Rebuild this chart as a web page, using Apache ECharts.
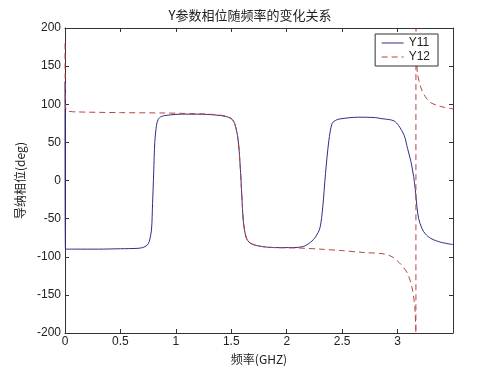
<!DOCTYPE html>
<html><head><meta charset="utf-8">
<script src="https://cdn.jsdelivr.net/npm/echarts@6/dist/echarts.min.js"></script>
<style>html,body{margin:0;padding:0;background:#fff}#c{width:500px;height:375px}</style>
</head><body><div id="c"></div>
<script>
const titleText = 'Y参数相位随频率的变化关系';
const xName = '频率(GHZ)';
const yName = '导纳相位(deg)';
const seriesNames = ['Y11', 'Y12'];
const xTicks = [0, 0.5, 1, 1.5, 2, 2.5, 3];
const yTicks = [-200, -150, -100, -50, 0, 50, 100, 150, 200];

const y11 = [
  [0,130],[0.004,-90],[0.1,-90],[0.3,-90],[0.5,-89.5],[0.65,-89],[0.7,-88],[0.74,-85],[0.76,-80],[0.78,-65],
  [0.79,-30],[0.80,10],[0.81,50],[0.825,72],[0.84,80],[0.87,84],[0.95,86],[1.05,87],[1.2,87],[1.35,86],
  [1.45,84],[1.5,81],[1.53,75],[1.56,55],[1.58,20],[1.595,-20],[1.61,-55],[1.635,-75],[1.67,-82],[1.75,-86],
  [1.9,-88],[2.05,-88],[2.15,-86.5],[2.215,-81],[2.26,-74],[2.3,-62],[2.325,-35],[2.35,9],[2.38,52],[2.41,75],
  [2.45,79.5],[2.49,81],[2.64,83],[2.8,82.5],[2.86,81],[2.92,80],[2.97,78],[3.01,72],[3.06,59],[3.09,42],
  [3.12,25],[3.145,5],[3.16,-12],[3.175,-35],[3.19,-50],[3.22,-63],[3.25,-70],[3.3,-76],[3.39,-81],[3.5,-84]
];
const y12 = [
  [0,180],[0.006,95],[0.03,91],[0.1,90],[0.5,89],[0.9,88.5],[1.2,87.5],[1.35,86.5],[1.45,84.5],[1.5,81.5],
  [1.53,75],[1.56,55],[1.58,20],[1.595,-20],[1.61,-55],[1.635,-75],[1.67,-82],[1.75,-86],[1.9,-88],[2.1,-88.5],
  [2.3,-90],[2.5,-92],[2.7,-94.5],[2.86,-96],[2.95,-100],[3.03,-110],[3.09,-122],[3.13,-140],[3.155,-165],[3.165,-200],
  [3.166,200],[3.172,160],[3.18,140],[3.21,122],[3.25,110],[3.3,102],[3.36,98.5],[3.42,96],[3.5,94]
];

const font = 'Liberation Sans, Arial, "Noto Sans CJK SC", sans-serif';
const axisCol = '#333';
const chart = echarts.init(document.getElementById('c'), null, {renderer: 'canvas'});
chart.setOption({
  backgroundColor: '#fff',
  animation: false,
  title: {
    text: titleText, left: 'center', top: 4,
    textStyle: {fontSize: 13, fontWeight: 'normal', color: '#222', fontFamily: '"Noto Sans CJK SC", sans-serif'}
  },
  legend: {
    orient: 'vertical', right: 62, top: 34, data: seriesNames,
    borderColor: '#333', borderWidth: 1, borderRadius: 0, backgroundColor: '#fff',
    padding: [3, 8, 3, 6], itemGap: 2, itemWidth: 22, itemHeight: 12,
    itemStyle: {opacity: 0}, lineStyle: {width: 1},
    textStyle: {fontSize: 12, color: '#222', fontFamily: font}
  },
  grid: {left: 65, right: 47, top: 28, bottom: 42},
  xAxis: [{
    type: 'value', min: 0, max: 3.5, interval: 0.5,
    name: xName, nameLocation: 'middle', nameGap: 20,
    nameTextStyle: {fontSize: 12, color: '#222', fontFamily: '"Noto Sans CJK SC", sans-serif'},
    axisLine: {show: true, onZero: false, lineStyle: {color: axisCol, width: 1}},
    axisTick: {show: true, inside: true, length: 4, lineStyle: {color: axisCol}},
    axisLabel: {fontSize: 12, color: '#222', fontFamily: font, margin: 3,
      formatter: v => (xTicks.indexOf(v) >= 0 ? String(v) : '')},
    splitLine: {show: false}
  }, {
    type: 'value', min: 0, max: 3.5, interval: 0.5, position: 'top',
    axisLine: {show: true, onZero: false, lineStyle: {color: axisCol, width: 1}},
    axisTick: {show: true, inside: true, length: 4, lineStyle: {color: axisCol}},
    axisLabel: {show: false}, splitLine: {show: false}
  }],
  yAxis: [{
    type: 'value', min: -200, max: 200, interval: 50,
    name: yName, nameLocation: 'middle', nameGap: 27, nameRotate: 90,
    nameTextStyle: {fontSize: 12, color: '#222', fontFamily: '"Noto Sans CJK SC", sans-serif'},
    axisLine: {show: true, onZero: false, lineStyle: {color: axisCol, width: 1}},
    axisTick: {show: true, inside: true, length: 4, lineStyle: {color: axisCol}},
    axisLabel: {fontSize: 12, color: '#222', fontFamily: font, margin: 4,
      formatter: v => (yTicks.indexOf(v) >= 0 ? String(v) : '')},
    splitLine: {show: false}
  }, {
    type: 'value', min: -200, max: 200, interval: 50, position: 'right',
    axisLine: {show: true, onZero: false, lineStyle: {color: axisCol, width: 1}},
    axisTick: {show: true, inside: true, length: 4, lineStyle: {color: axisCol}},
    axisLabel: {show: false}, splitLine: {show: false}
  }],
  series: [{
    name: seriesNames[0], type: 'line', data: y11, symbol: 'none', smooth: 0.3,
    lineStyle: {color: '#2e2e86', width: 1}, itemStyle: {color: '#2e2e86'}, z: 2
  }, {
    name: seriesNames[1], type: 'line', data: y12, symbol: 'none', smooth: 0.3,
    lineStyle: {color: '#b84444', width: 1, type: [6, 4]}, itemStyle: {color: '#b84444'}, z: 3
  }]
});
</script></body></html>
